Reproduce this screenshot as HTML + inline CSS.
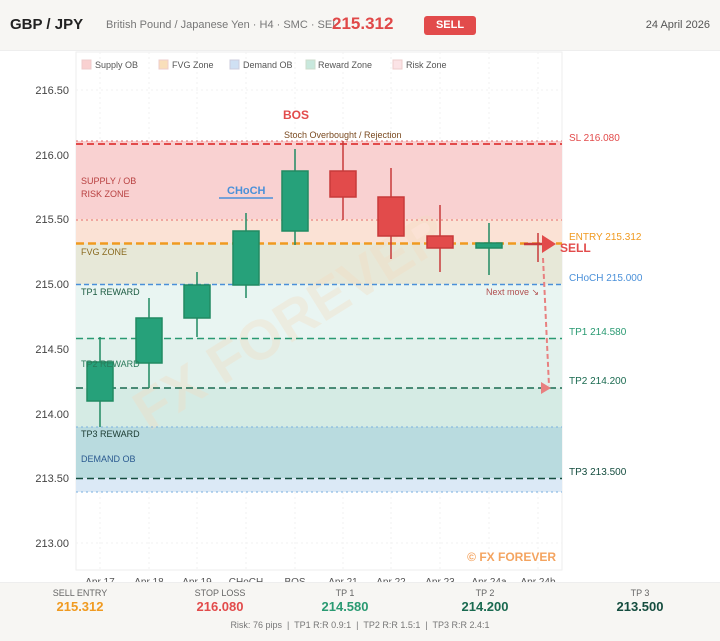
<!DOCTYPE html>
<html><head><meta charset="utf-8"><style>
body{margin:0;width:720px;height:640px;background:#fff;font-family:"Liberation Sans",sans-serif;position:relative;overflow:hidden}
.hdr{position:absolute;left:0;top:0;width:720px;height:50px;background:#f7f6f3;border-bottom:1px solid #eee}
.ftr{position:absolute;left:0;top:582px;width:720px;height:58px;background:#f7f6f3;border-top:1px solid #eee}
.c{position:absolute;text-align:center;width:140px}
</style></head><body>
<div class="hdr">
<div style="position:absolute;left:10px;top:16px;font-size:15px;font-weight:bold;color:#222">GBP / JPY</div>
<div style="position:absolute;left:106px;top:19px;font-size:11px;color:#777">British Pound / Japanese Yen · H4 · SMC · SEL</div>
<div style="position:absolute;left:332px;top:14px;font-size:17px;font-weight:bold;color:#e04848">215.312</div>
<div style="position:absolute;left:424px;top:16px;width:52px;height:19px;background:#e24b4b;border-radius:3px;color:#fff;font-size:11px;font-weight:bold;text-align:center;line-height:19px">SELL</div>
<div style="position:absolute;right:10px;top:19px;font-size:11px;color:#555">24 April 2026</div>
</div>
<svg width="720" height="582" style="position:absolute;left:0;top:0" font-family="Liberation Sans,sans-serif">
<rect x="76" y="52" width="486" height="518" fill="#fff" stroke="#eee"/>
<g stroke="#f2f2f2" stroke-dasharray="2,3">
<line x1="100" y1="52" x2="100" y2="570"/><line x1="149" y1="52" x2="149" y2="570"/><line x1="197" y1="52" x2="197" y2="570"/><line x1="246" y1="52" x2="246" y2="570"/><line x1="295" y1="52" x2="295" y2="570"/><line x1="343" y1="52" x2="343" y2="570"/><line x1="391" y1="52" x2="391" y2="570"/><line x1="440" y1="52" x2="440" y2="570"/><line x1="489" y1="52" x2="489" y2="570"/><line x1="538" y1="52" x2="538" y2="570"/>
<line x1="76" y1="90" x2="562" y2="90"/><line x1="76" y1="543" x2="562" y2="543"/>
</g>
<rect x="76" y="141" width="486" height="79" fill="#f9d1d1"/>
<rect x="76" y="219" width="486" height="25" fill="#fbe2d5"/>
<rect x="76" y="243" width="486" height="41" fill="#e7e8d8"/>
<rect x="76" y="284" width="486" height="54" fill="#e9f5f2"/>
<rect x="76" y="338" width="486" height="50" fill="#e2f1ec"/>
<rect x="76" y="388" width="486" height="39" fill="#d5ebe4"/>
<rect x="76" y="427" width="486" height="51" fill="#b9dbdf"/>
<rect x="76" y="478" width="486" height="14" fill="#dbe9f6"/>
<text x="290" y="340" font-size="56" font-weight="bold" fill="#f3dcc0" opacity="0.35" text-anchor="middle" transform="rotate(-32 290 320)">FX FOREVER</text>
<g fill="none">
<line x1="76" y1="141" x2="562" y2="141" stroke="#e46a6a" stroke-dasharray="2,3"/>
<line x1="76" y1="144" x2="562" y2="144" stroke="#e24b4b" stroke-width="2" stroke-dasharray="7,4"/>
<line x1="76" y1="220" x2="562" y2="220" stroke="#e46a6a" stroke-dasharray="2,3"/>
<line x1="76" y1="243.5" x2="562" y2="243.5" stroke="#f09a20" stroke-width="2.5" stroke-dasharray="8,4"/>
<line x1="76" y1="284.5" x2="562" y2="284.5" stroke="#4a90d9" stroke-width="1.5" stroke-dasharray="5,3"/>
<line x1="76" y1="338.5" x2="562" y2="338.5" stroke="#2a9a72" stroke-width="1.5" stroke-dasharray="7,4"/>
<line x1="76" y1="388" x2="562" y2="388" stroke="#1a6a50" stroke-width="1.5" stroke-dasharray="7,4"/>
<line x1="76" y1="427" x2="562" y2="427" stroke="#7ab0e0" stroke-dasharray="2,3"/>
<line x1="76" y1="478.5" x2="562" y2="478.5" stroke="#154d3f" stroke-width="1.5" stroke-dasharray="7,4"/>
<line x1="76" y1="492" x2="562" y2="492" stroke="#7ab0e0" stroke-dasharray="2,3"/>
</g>
<g font-size="11" fill="#444" text-anchor="end">
<text x="69" y="94">216.50</text><text x="69" y="159">216.00</text><text x="69" y="223">215.50</text><text x="69" y="288">215.00</text><text x="69" y="353">214.50</text><text x="69" y="418">214.00</text><text x="69" y="482">213.50</text><text x="69" y="547">213.00</text>
</g>
<g font-size="10" fill="#555" text-anchor="middle">
<text x="100" y="585">Apr 17</text><text x="149" y="585">Apr 18</text><text x="197" y="585">Apr 19</text><text x="246" y="585">CHoCH</text><text x="295" y="585">BOS</text><text x="343" y="585">Apr 21</text><text x="391" y="585">Apr 22</text><text x="440" y="585">Apr 23</text><text x="489" y="585">Apr 24a</text><text x="538" y="585">Apr 24b</text>
</g>
<g stroke-width="1.5">
<g stroke="#208a62" fill="#26a17a">
<line x1="100" y1="337" x2="100" y2="427"/><rect x="87" y="362" width="26" height="39"/>
<line x1="149" y1="298" x2="149" y2="388"/><rect x="136" y="318" width="26" height="45"/>
<line x1="197" y1="272" x2="197" y2="337"/><rect x="184" y="285" width="26" height="33"/>
<line x1="246" y1="213" x2="246" y2="298"/><rect x="233" y="231" width="26" height="54"/>
<line x1="295" y1="149" x2="295" y2="245"/><rect x="282" y="171" width="26" height="60"/>
<line x1="489" y1="223" x2="489" y2="275"/><rect x="476" y="243" width="26" height="5"/>
</g>
<g stroke="#c83a3a" fill="#e24b4b">
<line x1="343" y1="141" x2="343" y2="220"/><rect x="330" y="171" width="26" height="26"/>
<line x1="391" y1="168" x2="391" y2="259"/><rect x="378" y="197" width="26" height="39"/>
<line x1="440" y1="205" x2="440" y2="272"/><rect x="427" y="236" width="26" height="12"/>
<line x1="538" y1="233" x2="538" y2="262"/>
</g>
</g>
<line x1="524" y1="244" x2="542" y2="244" stroke="#c83a3a" stroke-width="2.5"/>
<polygon points="542,235 556,244 542,253" fill="#e24b4b"/>
<text x="560" y="252" font-size="12" font-weight="bold" fill="#e24b4b">SELL</text>
<polyline points="543,258 549,386" fill="none" stroke="#e88080" stroke-width="2" stroke-dasharray="5,3"/>
<polygon points="541,382 551,388 541,394" fill="#e88080"/>
<g font-size="9">
<rect x="82" y="60" width="9" height="9" fill="#f9d1d1" stroke="#ecc"/><text x="95" y="68" fill="#555">Supply OB</text>
<rect x="159" y="60" width="9" height="9" fill="#f9dfba" stroke="#ecc"/><text x="172" y="68" fill="#555">FVG Zone</text>
<rect x="230" y="60" width="9" height="9" fill="#cfe0f3" stroke="#ccd"/><text x="243" y="68" fill="#555">Demand OB</text>
<rect x="306" y="60" width="9" height="9" fill="#c8e8dd" stroke="#cdc"/><text x="318" y="68" fill="#555">Reward Zone</text>
<rect x="393" y="60" width="9" height="9" fill="#fbe3e6" stroke="#ecc"/><text x="406" y="68" fill="#555">Risk Zone</text>
<text x="81" y="184" fill="#b84040">SUPPLY / OB</text><text x="81" y="197" fill="#b84040">RISK ZONE</text>
<text x="81" y="255" fill="#8a6a20">FVG ZONE</text>
<text x="81" y="295" fill="#1a5a40">TP1 REWARD</text>
<text x="81" y="367" fill="#2a7a5a">TP2 REWARD</text>
<text x="81" y="437" fill="#1a3a30">TP3 REWARD</text>
<text x="81" y="462" fill="#2a5a90">DEMAND OB</text>
<text x="284" y="138" fill="#7a4a20">Stoch Overbought / Rejection</text>
<text x="486" y="295" fill="#b05050">Next move ↘</text>
</g>
<text x="283" y="119" font-size="12" font-weight="bold" fill="#e24b4b">BOS</text>
<text x="227" y="194" font-size="11" font-weight="bold" fill="#4a90d9">CHoCH</text>
<line x1="219" y1="198" x2="273" y2="198" stroke="#4a90d9" stroke-width="1.5"/>
<text x="556" y="561" font-size="12" font-weight="bold" fill="#f4a460" text-anchor="end">© FX FOREVER</text>
<g font-size="10" style="white-space:pre">
<text x="569" y="141" fill="#e24b4b">SL   216.080</text>
<text x="569" y="240" fill="#f09a20">ENTRY 215.312</text>
<text x="569" y="281" fill="#4a90d9">CHoCH 215.000</text>
<text x="569" y="335" fill="#2a9a72">TP1  214.580</text>
<text x="569" y="384" fill="#1a6a50">TP2  214.200</text>
<text x="569" y="475" fill="#154d3f">TP3  213.500</text>
</g>
</svg>
<div class="ftr">
<div class="c" style="left:10px;top:5px;font-size:9px;color:#666">SELL ENTRY</div><div class="c" style="left:10px;top:16px;font-size:13px;font-weight:bold;color:#f09a20">215.312</div>
<div class="c" style="left:150px;top:5px;font-size:9px;color:#666">STOP LOSS</div><div class="c" style="left:150px;top:16px;font-size:13px;font-weight:bold;color:#e24b4b">216.080</div>
<div class="c" style="left:275px;top:5px;font-size:9px;color:#666">TP 1</div><div class="c" style="left:275px;top:16px;font-size:13px;font-weight:bold;color:#2a9a72">214.580</div>
<div class="c" style="left:415px;top:5px;font-size:9px;color:#666">TP 2</div><div class="c" style="left:415px;top:16px;font-size:13px;font-weight:bold;color:#1a6a50">214.200</div>
<div class="c" style="left:570px;top:5px;font-size:9px;color:#666">TP 3</div><div class="c" style="left:570px;top:16px;font-size:13px;font-weight:bold;color:#154d3f">213.500</div>
<div style="position:absolute;left:0;width:720px;text-align:center;top:37px;font-size:9px;color:#777">Risk: 76 pips &nbsp;|&nbsp; TP1 R:R 0.9:1 &nbsp;|&nbsp; TP2 R:R 1.5:1 &nbsp;|&nbsp; TP3 R:R 2.4:1</div>
</div>
</body></html>
